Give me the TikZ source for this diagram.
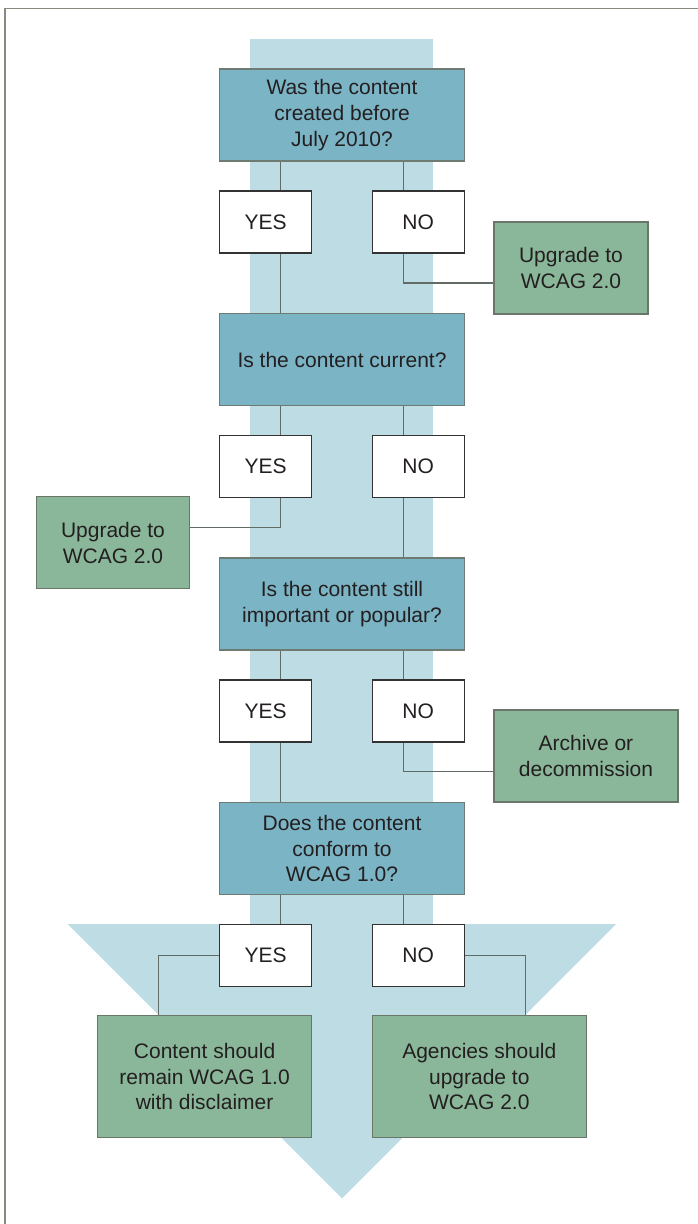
\documentclass[tikz,border=0pt]{standalone}
\usepackage{fontspec}
\setmainfont{Liberation Sans}

\definecolor{bandblue}{HTML}{BDDCE4}
\definecolor{qfill}{HTML}{7BB4C5}
\definecolor{qline}{HTML}{6E7B72}
\definecolor{gfill}{HTML}{8AB799}
\definecolor{gline}{HTML}{6A7668}
\definecolor{linkgray}{HTML}{626C64}
\definecolor{framegray}{HTML}{868B80}
\definecolor{inkdark}{HTML}{231F20}

\begin{document}
\begin{tikzpicture}[
    x=1pt, y=-1pt,
    quest/.style = {rectangle, draw=qline, fill=qfill, line width=1.4pt,
                    minimum width=245pt, minimum height=92pt, align=center},
    ans/.style   = {rectangle, draw=black!80, fill=white, line width=1.4pt,
                    minimum width=92pt, minimum height=62pt},
    act/.style   = {rectangle, draw=gline, fill=gfill, line width=1.4pt,
                    minimum height=92pt, align=center},
    link/.style  = {draw=linkgray, line width=1.3pt},
    every node/.style = {inner sep=2pt, text=inkdark,
                         font=\fontsize{21}{25.7}\selectfont},
  ]
  \useasboundingbox (0,0) rectangle (698,1224);
  % background arrow and frame
  \fill[bandblue] (250,39) rectangle (433,924);
  \fill[bandblue] (67.7,924) -- (616.2,924) -- (342,1198.3) -- cycle;
  \draw[framegray, line width=1.8pt] (698,8.5) -- (5,8.5) -- (5,1224);
  % questions
  \node[quest] (q1) at (342,115)   {Was the content\\created before\\July 2010?};
  \node[quest] (q2) at (342,359.5) {Is the content current?};
  \node[quest] (q3) at (342,604)   {Is the content still\\important or popular?};
  \node[quest] (q4) at (342,848.5) {Does the content\\conform to\\WCAG 1.0?};
  % answers
  \foreach \i/\y in {1/222,2/466.5,3/711,4/955.5}{
    \node[ans] (y\i) at (265.6,\y) {YES};
    \node[ans] (n\i) at (418.2,\y) {NO};
  }
  % outcomes
  \node[act, minimum width=154pt] (g1) at (571,268)   {Upgrade to\\WCAG 2.0};
  \node[act, minimum width=153pt] (g2) at (113,542.7) {Upgrade to\\WCAG 2.0};
  \node[act, minimum width=184pt] (g3) at (586,756)   {Archive or\\decommission};
  \node[act, minimum width=214pt, minimum height=122pt] (r1) at (204.6,1076.7)
    {Content should\\remain WCAG 1.0\\with disclaimer};
  \node[act, minimum width=214pt, minimum height=122pt] (r2) at (479.3,1076.7)
    {Agencies should\\upgrade to\\WCAG 2.0};
  % question to answer links
  \foreach \i in {1,2,3,4}{
    \draw[link] ([xshift=15pt]y\i.north) -- ([xshift=15pt]y\i.north |- q\i.south);
    \draw[link] ([xshift=-15pt]n\i.north) -- ([xshift=-15pt]n\i.north |- q\i.south);
  }
  % answer to next step links
  \draw[link] ([xshift=15pt]y1.south) -- ([xshift=15pt]y1.south |- q2.north);
  \draw[link] ([xshift=-15pt]n1.south) |- ([yshift=-15pt]g1.west);
  \draw[link] ([xshift=15pt]y2.south) |- ([yshift=15.4pt]g2.east);
  \draw[link] ([xshift=-15pt]n2.south) -- ([xshift=-15pt]n2.south |- q3.north);
  \draw[link] ([xshift=15pt]y3.south) -- ([xshift=15pt]y3.south |- q4.north);
  \draw[link] ([xshift=-15pt]n3.south) |- ([yshift=-15.7pt]g3.west);
  \draw[link] (y4.west) -| ([xshift=-46pt]r1.north);
  \draw[link] (n4.east) -| ([xshift=46pt]r2.north);
\end{tikzpicture}
\end{document}
